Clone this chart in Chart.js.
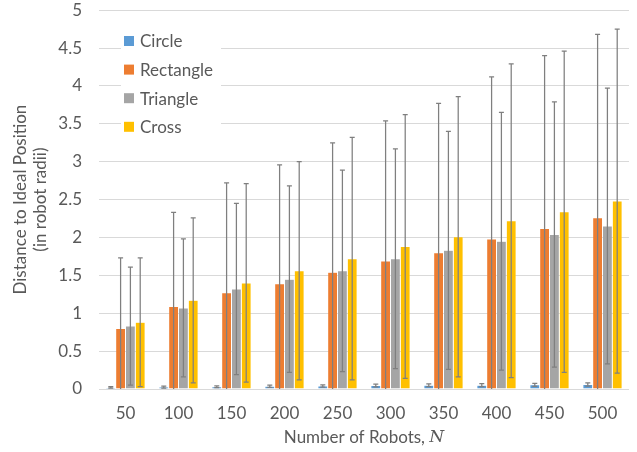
<!DOCTYPE html>
<html>
<head>
<meta charset="utf-8">
<script src="https://cdn.jsdelivr.net/npm/chart.js@4/dist/chart.umd.min.js"></script>
<style>
    html, body { margin: 0; padding: 0; background: #fff; }
    #wrap { width: 637px; height: 452px; }
</style>
</head>
<body>
<div id="wrap"><canvas id="robotChart" width="637" height="452"></canvas></div>
<script>
// x axis categories (number of robots)
var robotCounts = ['50', '100', '150', '200', '250', '300', '350', '400', '450', '500'];

// mean distance per shape
var circleMean    = [0.02, 0.025, 0.03, 0.035, 0.04, 0.045, 0.05, 0.05, 0.055, 0.06];
var rectangleMean = [0.80, 1.09, 1.27, 1.39, 1.54, 1.69, 1.80, 1.98, 2.12, 2.26];
var triangleMean  = [0.83, 1.07, 1.32, 1.45, 1.56, 1.72, 1.83, 1.95, 2.04, 2.15];
var crossMean     = [0.88, 1.17, 1.40, 1.56, 1.72, 1.88, 2.01, 2.22, 2.34, 2.48];

// error bar half lengths per shape
var circleErr    = [0.01, 0.012, 0.012, 0.015, 0.015, 0.018, 0.018, 0.02, 0.02, 0.022];
var rectangleErr = [0.93, 1.24, 1.45, 1.57, 1.71, 1.85, 1.97, 2.14, 2.28, 2.42];
var triangleErr  = [0.78, 0.91, 1.13, 1.23, 1.33, 1.45, 1.57, 1.70, 1.75, 1.82];
var crossErr     = [0.85, 1.09, 1.31, 1.44, 1.60, 1.74, 1.85, 2.07, 2.12, 2.27];

// y axis ticks
var yTicks = [0, 0.5, 1, 1.5, 2, 2.5, 3, 3.5, 4, 4.5, 5];

var textColor = '#595959';
var fontFamily = 'Lato, "Liberation Sans", sans-serif';

// draws the error bars on top of each bar
var errorBarPlugin = {
    id: 'errorBars',
    afterDatasetsDraw: function (chart) {
        var ctx = chart.ctx;
        var yScale = chart.scales.y;
        var area = chart.chartArea;
        ctx.save();
        ctx.strokeStyle = '#7f7f7f';
        ctx.lineWidth = 1.25;
        chart.data.datasets.forEach(function (ds, i) {
            var meta = chart.getDatasetMeta(i);
            meta.data.forEach(function (bar, j) {
                var v = ds.data[j];
                var e = ds.errors[j];
                var top = yScale.getPixelForValue(v + e);
                var low = v - e;
                var bottom = Math.min(yScale.getPixelForValue(low), area.bottom);
                ctx.beginPath();
                ctx.moveTo(bar.x, top);
                ctx.lineTo(bar.x, bottom);
                ctx.moveTo(bar.x - 2.5, top);
                ctx.lineTo(bar.x + 2.5, top);
                if (low > 0) {
                    ctx.moveTo(bar.x - 2.5, bottom);
                    ctx.lineTo(bar.x + 2.5, bottom);
                }
                ctx.stroke();
            });
        });
        ctx.restore();
    }
};

// legend drawn inside the plot, top left
var innerLegendPlugin = {
    id: 'innerLegend',
    afterDraw: function (chart) {
        var ctx = chart.ctx;
        ctx.save();
        ctx.fillStyle = '#fff';
        ctx.fillRect(121, 27, 100, 114);
        ctx.font = '17px ' + fontFamily;
        ctx.textBaseline = 'middle';
        chart.data.datasets.forEach(function (ds, i) {
            var y = 41 + i * 28.6;
            ctx.fillStyle = ds.backgroundColor;
            ctx.fillRect(124, y - 5, 10, 10);
            ctx.fillStyle = textColor;
            ctx.fillText(ds.label, 140, y + 1);
        });
        ctx.restore();
    }
};

// x axis title with italic N
var xTitlePlugin = {
    id: 'xTitle',
    afterDraw: function (chart) {
        var ctx = chart.ctx;
        var area = chart.chartArea;
        var part1 = 'Number of Robots, ';
        var part2 = 'N';
        ctx.save();
        ctx.textBaseline = 'middle';
        ctx.fillStyle = textColor;
        ctx.font = '17px ' + fontFamily;
        var w1 = ctx.measureText(part1).width;
        ctx.font = 'italic 17px "DejaVu Serif", serif';
        var w2 = ctx.measureText(part2).width;
        var x = (area.left + area.right) / 2 - (w1 + w2) / 2;
        ctx.font = '17px ' + fontFamily;
        ctx.fillText(part1, x, 438);
        ctx.font = 'italic 17px "DejaVu Serif", serif';
        ctx.fillText(part2, x + w1, 438);
        ctx.restore();
    }
};

function makeSet(label, color, data, errors) {
    return {
        label: label,
        data: data,
        errors: errors,
        backgroundColor: color,
        borderColor: 'rgba(255,255,255,0.35)',
        borderWidth: 0.5,
        barPercentage: 1.0,
        categoryPercentage: 0.74
    };
}

const ctx = document.getElementById('robotChart');

const config = {
    type: 'bar',
    data: {
        labels: robotCounts,
        datasets: [
            makeSet('Circle', '#5B9BD5', circleMean, circleErr),
            makeSet('Rectangle', '#ED7D31', rectangleMean, rectangleErr),
            makeSet('Triangle', '#A5A5A5', triangleMean, triangleErr),
            makeSet('Cross', '#FFC000', crossMean, crossErr)
        ]
    },
    options: {
        responsive: false,
        animation: false,
        layout: { padding: { left: 10, right: 8, top: 1, bottom: 0 } },
        plugins: {
            legend: { display: false },
            tooltip: { enabled: false }
        },
        scales: {
            x: {
                grid: { display: false },
                border: { display: false },
                ticks: { color: textColor, font: { family: fontFamily, size: 17 }, padding: 6 },
                afterFit: function (scale) { scale.height = 63; }
            },
            y: {
                min: 0,
                max: 5,
                afterBuildTicks: function (scale) {
                    scale.ticks = yTicks.map(function (v) { return { value: v }; });
                },
                grid: { color: '#D9D9D9', lineWidth: 1, drawTicks: true, tickLength: 17, tickColor: 'rgba(0,0,0,0)' },
                border: { display: false },
                ticks: {
                    color: textColor,
                    font: { family: fontFamily, size: 17 },
                    padding: 0,
                    callback: function (value) { return String(value); }
                },
                title: {
                    display: true,
                    text: ['Distance to Ideal Position', '(in robot radii)'],
                    color: textColor,
                    font: { family: fontFamily, size: 17 },
                    padding: 0
                },
                afterFit: function (scale) { scale.width = 89; }
            }
        }
    },
    plugins: [errorBarPlugin, innerLegendPlugin, xTitlePlugin]
};

var robotChart = new Chart(ctx, config);
</script>
</body>
</html>
